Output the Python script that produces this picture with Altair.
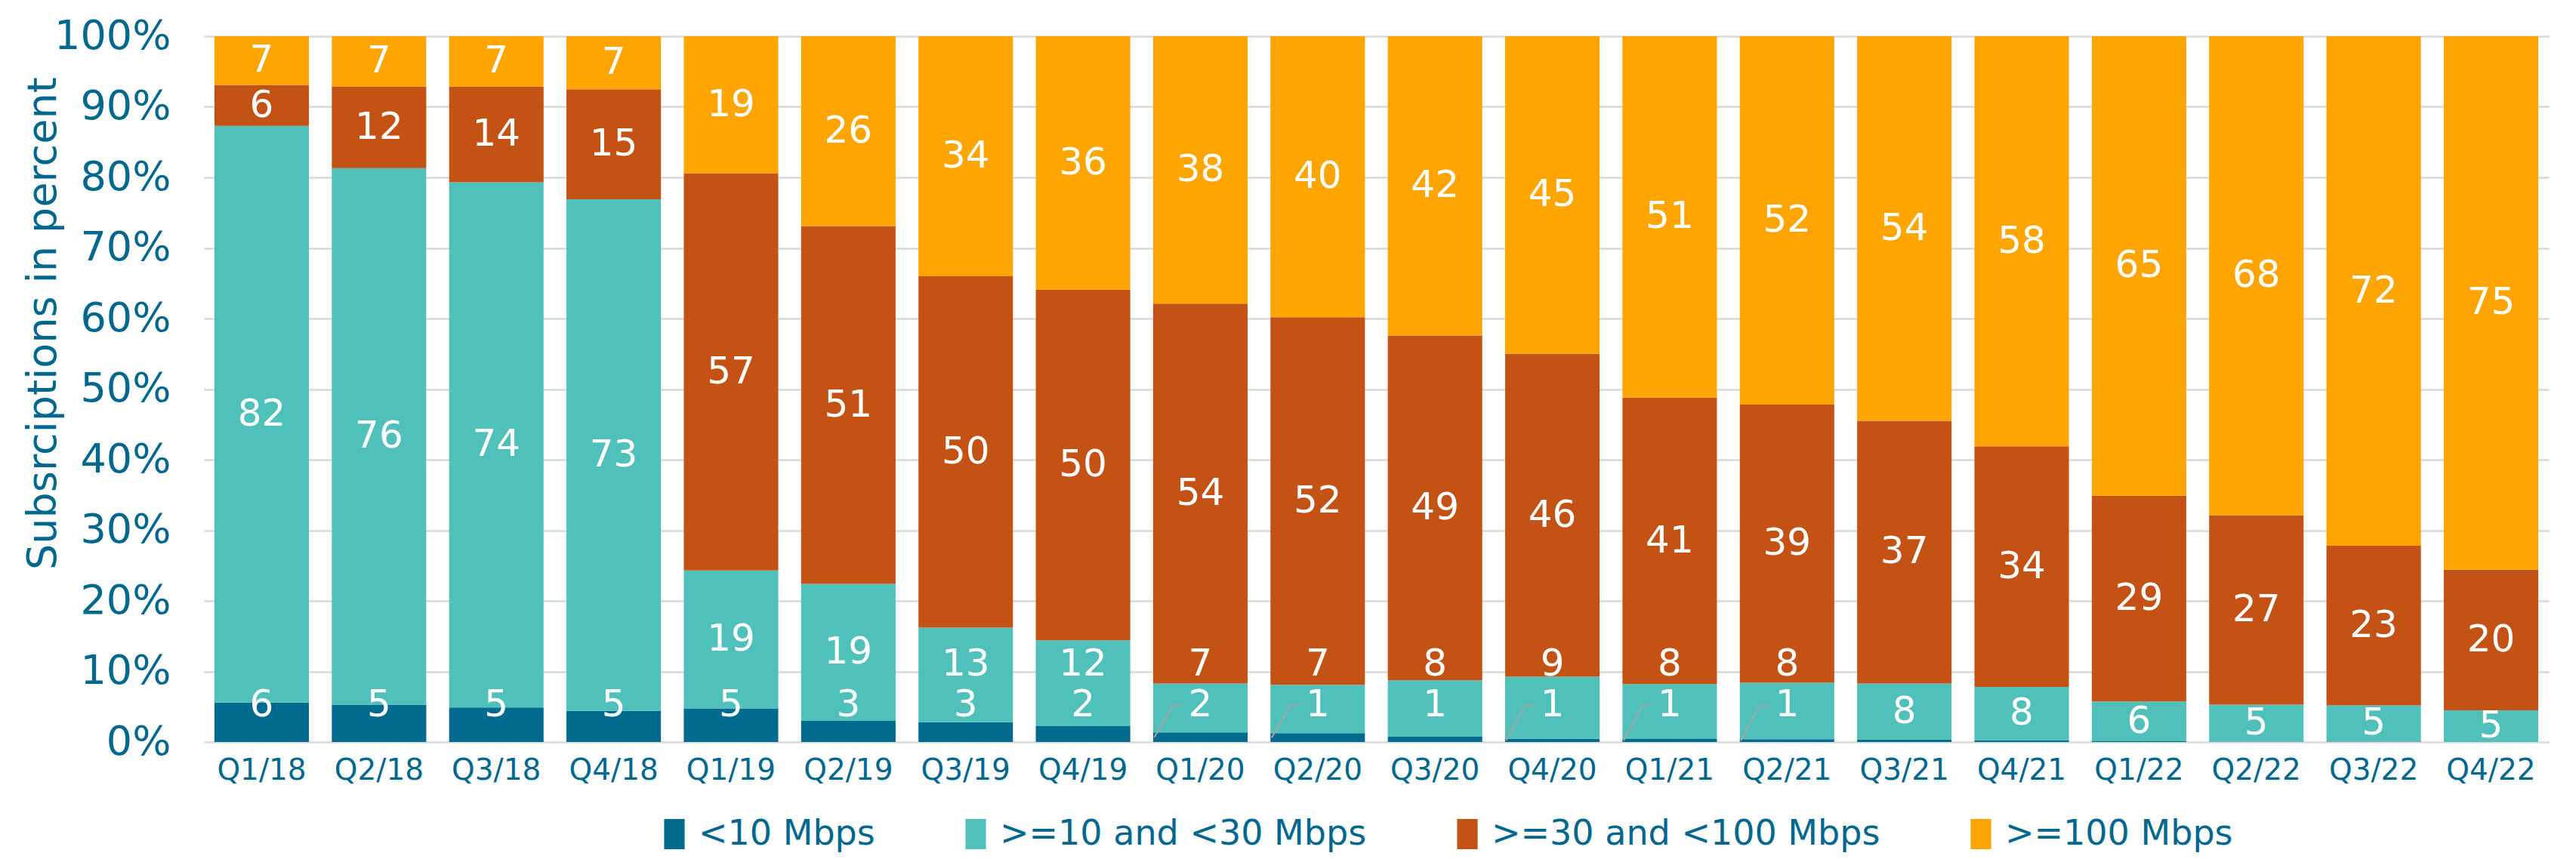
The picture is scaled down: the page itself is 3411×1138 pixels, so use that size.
import altair as alt
import pandas as pd

quarters = ["Q1/18", "Q2/18", "Q3/18", "Q4/18", "Q1/19", "Q2/19", "Q3/19", "Q4/19",
            "Q1/20", "Q2/20", "Q3/20", "Q4/20", "Q1/21", "Q2/21", "Q3/21", "Q4/21",
            "Q1/22", "Q2/22", "Q3/22", "Q4/22"]
series = ["<10 Mbps", ">=10 and <30 Mbps", ">=30 and <100 Mbps", ">=100 Mbps"]
colors = ["#006A8F", "#4FC1BA", "#C55215", "#FFA502"]

# segment shares (% of subscriptions)
share_lt10 = [5.6, 5.3, 4.9, 4.4, 4.75, 3.0, 2.8, 2.25, 1.36, 1.25, 0.8, 0.46, 0.43, 0.4, 0.36, 0.25, 0.1, 0.05, 0.05, 0.0]
share_10_30 = [81.7, 76.0, 74.4, 72.5, 19.55, 19.4, 13.4, 12.15, 6.94, 6.85, 7.95, 8.8, 7.77, 8.0, 7.94, 7.55, 5.65, 5.25, 5.15, 4.5]
share_30_100 = [5.8, 11.6, 13.6, 15.6, 56.3, 50.7, 49.8, 49.7, 53.8, 52.1, 48.85, 45.75, 40.6, 39.4, 37.2, 34.1, 29.15, 26.8, 22.6, 19.9]
share_100 = [6.9, 7.1, 7.1, 7.5, 19.4, 26.9, 34.0, 35.9, 37.9, 39.8, 42.4, 45.0, 51.2, 52.2, 54.5, 58.1, 65.1, 67.9, 72.2, 75.6]

# printed data labels
lbl_lt10 = [6, 5, 5, 5, 5, 3, 3, 2, 2, 1, 1, 1, 1, 1, None, None, None, None, None, None]
lbl_10_30 = [82, 76, 74, 73, 19, 19, 13, 12, 7, 7, 8, 9, 8, 8, 8, 8, 6, 5, 5, 5]
lbl_30_100 = [6, 12, 14, 15, 57, 51, 50, 50, 54, 52, 49, 46, 41, 39, 37, 34, 29, 27, 23, 20]
lbl_100 = [7, 7, 7, 7, 19, 26, 34, 36, 38, 40, 42, 45, 51, 52, 54, 58, 65, 68, 72, 75]

leader_quarters = ["Q1/20", "Q2/20", "Q4/20", "Q1/21", "Q2/21"]

TXT = "#00678F"
FONT = "DejaVu Sans"
SMALL_LABEL_Y = 5.2

shares = [share_lt10, share_10_30, share_30_100, share_100]
labels = [lbl_lt10, lbl_10_30, lbl_30_100, lbl_100]

bar_rows, lab_rows, lead_rows = [], [], []
for i, q in enumerate(quarters):
    tot = sum(s[i] for s in shares)
    base = 0.0
    mids = []
    for k, s in enumerate(series):
        v = shares[k][i] * 100.0 / tot
        bar_rows.append(dict(quarter=q, series=s, y0=base, y1=base + v))
        mids.append(base + v / 2)
        base += v
    for k, s in enumerate(series):
        lab = labels[k][i]
        if lab is None:
            continue
        y = mids[k]
        if k == 0:
            y = SMALL_LABEL_Y
        elif k == 1 and lbl_lt10[i] is not None:
            y = max(mids[1], SMALL_LABEL_Y + 5.8)
        lab_rows.append(dict(quarter=q, series=s, y=y, label=lab))
    if q in leader_quarters:
        lead_rows.append(dict(quarter=q, ys=mids[0], ye=SMALL_LABEL_Y))

bars_df = pd.DataFrame(bar_rows)
lab_df = pd.DataFrame(lab_rows)
lead_df = pd.DataFrame(lead_rows)

xscale = alt.Scale(paddingInner=0.195, paddingOuter=0.09)
X = alt.X("quarter:N", sort=quarters, scale=xscale,
          axis=alt.Axis(title=None, labelAngle=0, ticks=False, domain=False, grid=False,
                        labelFont=FONT, labelFontSize=39, labelColor=TXT, labelPadding=18))
yscale = alt.Scale(domain=[0, 100], nice=False)

bars = alt.Chart(bars_df).mark_bar().encode(
    x=X,
    y=alt.Y("y0:Q", scale=yscale,
            axis=alt.Axis(values=list(range(0, 101, 10)), labelExpr="datum.value + '%'",
                          grid=True, gridColor="#D9D9D9", gridWidth=2.5, domain=False, ticks=False,
                          labelFont=FONT, labelFontSize=54, labelColor=TXT, labelPadding=44,
                          title="Subsrciptions in percent", titleFont=FONT, titleFontSize=54,
                          titleFontWeight="normal", titleColor=TXT, titleAngle=270,
                          titleX=-213, titleY=380, titleAlign="center", titleBaseline="middle")),
    y2="y1:Q",
    color=alt.Color("series:N", scale=alt.Scale(domain=series, range=colors),
                    legend=alt.Legend(title=None, orient="none", direction="horizontal", columns=4,
                                      legendX=600, legendY=1034, padding=0,
                                      symbolType="M-0.68,-1H0.68V1H-0.68Z", symbolSize=1600,
                                      symbolStrokeWidth=0, symbolOpacity=1,
                                      labelFont=FONT, labelFontSize=46, labelColor=TXT,
                                      labelOffset=9, columnPadding=110, labelLimit=2000)),
)

texts = alt.Chart(lab_df).mark_text(color="white", font=FONT, fontSize=50,
                                    align="center", baseline="middle").encode(
    x=alt.X("quarter:N", sort=quarters, scale=xscale),
    y=alt.Y("y:Q", scale=yscale),
    text=alt.Text("label:Q", format="d"),
)

diag = alt.Chart(lead_df).mark_rule(color="#A6A6A6", strokeWidth=2, xOffset=-61, x2Offset=-36).encode(
    x=alt.X("quarter:N", sort=quarters, scale=xscale),
    x2="quarter:N",
    y=alt.Y("ys:Q", scale=yscale),
    y2="ye:Q",
)
horiz = alt.Chart(lead_df).mark_rule(color="#A6A6A6", strokeWidth=2, xOffset=-36, x2Offset=-24).encode(
    x=alt.X("quarter:N", sort=quarters, scale=xscale),
    x2="quarter:N",
    y=alt.Y("ye:Q", scale=yscale),
)

chart = alt.layer(bars, diag, horiz, texts).properties(
    width=3105, height=935,
    autosize=alt.AutoSizeParams(type="none"),
    padding={"left": 262, "top": 40, "right": 28, "bottom": 147},
    background="white",
).configure_view(stroke=None)

chart.save("out.html", embed_options={"renderer": "svg", "actions": False})
